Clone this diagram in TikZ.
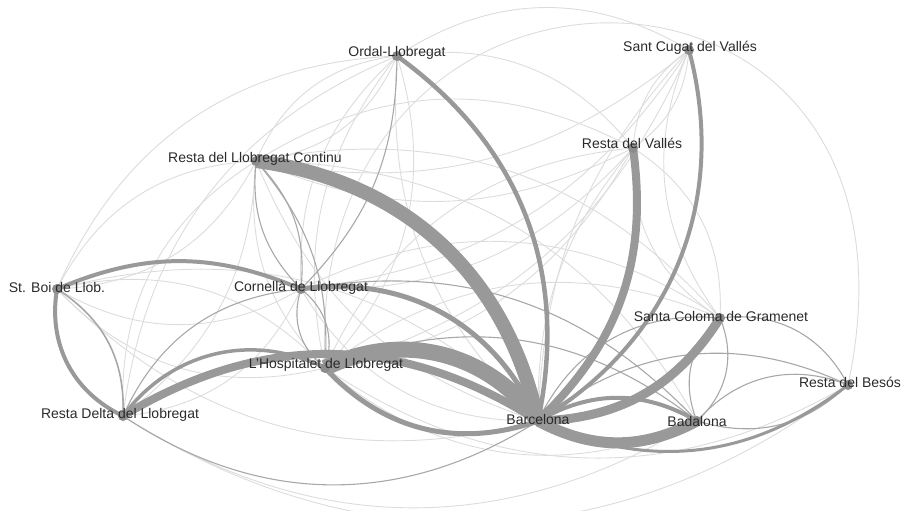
\documentclass[tikz,border=0pt]{standalone}
\usepackage{fontspec}
\setmainfont{Liberation Sans}
\definecolor{hvc}{HTML}{999999}
\definecolor{mdc}{HTML}{A8A8A8}
\definecolor{ltc}{HTML}{DCDCDC}
\definecolor{dotc}{HTML}{8C8C8C}
\definecolor{txtc}{HTML}{2A2A2A}
\pgfdeclarelayer{bg}
\pgfsetlayers{bg,main}
\newcommand{\ed}[4]{\draw[#1] (#2.center) to[bend left=#4] (#3.center);}
\begin{document}
\begin{tikzpicture}[x=1pt,y=-1pt,
  hv/.style={draw=hvc,line width=#1},
  md/.style={draw=mdc,line width=1.1pt},
  lt/.style={draw=ltc,line width=0.9pt},
  dotn/.style={circle,fill=dotc,inner sep=0pt,minimum size=10pt},
  lbl/.style={anchor=base,text=txtc,font=\fontsize{14}{16}\selectfont,inner sep=0pt}]
\useasboundingbox (0,0) rectangle (905,511);
% dots
\node[dotn] (ord) at (397,56) {};
\node[dotn] (scv) at (689,50) {};
\node[dotn] (rva) at (633,148) {};
\node[dotn] (rlc) at (256,161) {};
\node[dotn] (sbo) at (57,289) {};
\node[dotn] (cor) at (301,289) {};
\node[dotn] (hos) at (325,368) {};
\node[dotn] (rdl) at (123,416) {};
\node[dotn] (bcn) at (538,421) {};
\node[dotn] (bad) at (697,421) {};
\node[dotn] (scg) at (720,318) {};
\node[dotn] (rbe) at (848,385) {};
% labels
\node[lbl] (ordL) at (397,57) {Ordal-Llobregat};
\node[lbl] (scvL) at (690,52) {Sant Cugat del Vallés};
\node[lbl] (rvaL) at (632,148) {Resta del Vallés};
\node[lbl] (rlcL) at (255,162) {Resta del Llobregat Continu};
\node[lbl] (sboL) at (57,292) {St. Boi de Llob.};
\node[lbl] (corL) at (301,291) {Cornellà de Llobregat};
\node[lbl] (hosL) at (326,368) {L'Hospitalet de Llobregat};
\node[lbl] (rdlL) at (120,418) {Resta Delta del Llobregat};
\node[lbl] (bcnL) at (538,424) {Barcelona};
\node[lbl] (badL) at (697,426) {Badalona};
\node[lbl] (scgL) at (721,321) {Santa Coloma de Gramenet};
\node[lbl] (rbeL) at (850,387) {Resta del Besós};
\begin{pgfonlayer}{bg}
% light edges
\ed{lt}{sbo}{ord}{32}
\ed{lt}{rdl}{rlc}{30}
\ed{lt}{rlc}{rdl}{25}
\ed{lt}{sbo}{rlc}{30}
\ed{lt}{rlc}{sbo}{30}
\ed{lt}{rlc}{ord}{30}
\ed{lt}{ord}{rlc}{30}
\ed{lt}{cor}{ord}{25}
\ed{lt}{ord}{hos}{30}
\ed{lt}{hos}{ord}{25}
\ed{lt}{hos}{rlc}{25}
\ed{lt}{cor}{rdl}{30}
\ed{lt}{sbo}{hos}{30}
\ed{lt}{hos}{sbo}{30}
\ed{lt}{cor}{sbo}{30}
\ed{lt}{rdl}{ord}{30}
\ed{lt}{rlc}{rva}{30}
\ed{lt}{ord}{rva}{30}
\ed{lt}{hos}{rva}{30}
\ed{lt}{rva}{cor}{25}
\ed{lt}{rva}{hos}{25}
\ed{lt}{rva}{rlc}{25}
\ed{lt}{scv}{rlc}{25}
\ed{lt}{scv}{cor}{25}
\ed{lt}{scv}{hos}{25}
\ed{lt}{ord}{scv}{32}
\ed{lt}{rva}{scv}{25}
\ed{lt}{scv}{rva}{25}
\ed{lt}{cor}{scg}{30}
\ed{lt}{hos}{scg}{30}
\ed{lt}{rlc}{scg}{30}
\ed{lt}{rlc}{bad}{30}
\ed{lt}{sbo}{bcn}{30}
\ed{lt}{bcn}{sbo}{30}
\ed{lt}{bcn}{cor}{30}
\ed{lt}{bcn}{rlc}{25}
\ed{lt}{bcn}{ord}{25}
\ed{lt}{rbe}{rdl}{35}
\ed{lt}{bad}{rdl}{32}
\ed{lt}{bad}{hos}{32}
\ed{lt}{rbe}{hos}{32}
\ed{lt}{bcn}{scv}{20}
\ed{lt}{bcn}{rva}{20}
\ed{lt}{scg}{scv}{30}
\ed{lt}{rva}{scg}{30}
\ed{lt}{scg}{rva}{30}
\draw[lt] (hos.center) .. controls (300,-100) and (950,-90) .. (rbe.center);
% medium edges
\ed{md}{rlc}{cor}{25}
\ed{md}{cor}{rlc}{25}
\ed{md}{rlc}{hos}{22}
\ed{md}{ord}{cor}{22}
\ed{md}{cor}{hos}{35}
\ed{md}{hos}{cor}{35}
\ed{md}{rdl}{cor}{30}
\ed{md}{hos}{bad}{30}
\ed{md}{cor}{bad}{28}
\ed{md}{bcn}{rdl}{33}
\ed{md}{bad}{scg}{35}
\ed{md}{scg}{bad}{35}
\ed{md}{bad}{rbe}{35}
\ed{md}{rbe}{bad}{30}
\ed{md}{bcn}{rbe}{32}
\ed{md}{scg}{rbe}{35}
\ed{md}{bcn}{scg}{35}
\ed{md,line width=1.6pt}{sbo}{rdl}{30}
% heavy edges
\ed{hv=3pt}{rbe}{bcn}{31}
\ed{hv=3.5pt}{rdl}{hos}{40}
\ed{hv=4pt}{rdl}{sbo}{37}
\ed{hv=4pt}{sbo}{cor}{23}
\ed{hv=4pt}{bcn}{bad}{30}
\ed{hv=4pt}{scv}{bcn}{37}
\ed{hv=4.5pt}{ord}{bcn}{33}
\ed{hv=5pt}{bcn}{hos}{33}
\ed{hv=5pt}{cor}{bcn}{37}
\ed{hv=9pt}{scg}{bcn}{28}
\ed{hv=8pt}{rva}{bcn}{27}
\ed{hv=8pt}{rdl}{bcn}{32}
\ed{hv=11pt}{bad}{bcn}{28}
\ed{hv=14pt}{rlc}{bcn}{35}
\ed{hv=16pt}{hos}{bcn}{40}
\end{pgfonlayer}
\end{tikzpicture}
\end{document}
